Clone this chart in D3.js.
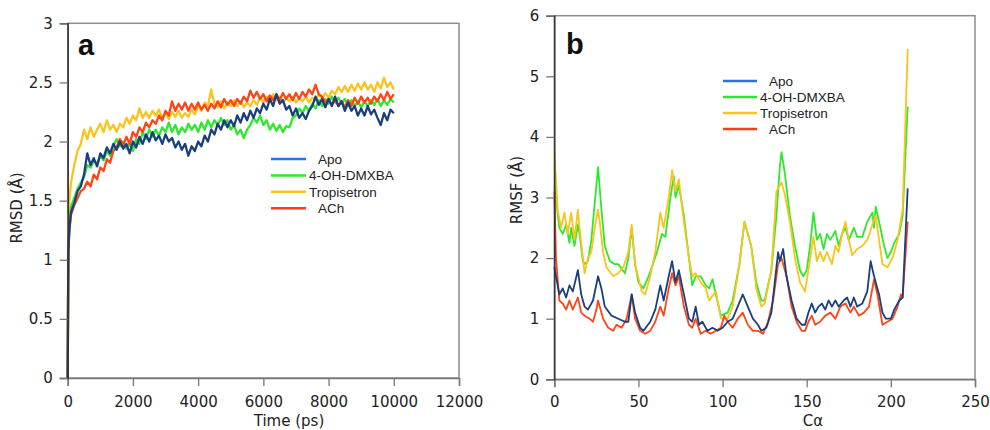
<!DOCTYPE html>
<html>
<head>
<meta charset="utf-8">
<script src="https://cdn.jsdelivr.net/npm/d3@7"></script>
<style>
  body { margin: 0; background: #fff; }
  .tick text { font-family: "DejaVu Sans", sans-serif; font-size: 15px; fill: #222; }
  .legend text { font-family: "Liberation Sans", Arial, sans-serif; font-size: 13.5px; fill: #222; }
  .axis-title { font-family: "DejaVu Sans", sans-serif; font-size: 15px; fill: #222; }
  .panel-tag { font-family: "Liberation Sans", Arial, sans-serif; font-size: 29px; font-weight: bold; fill: #111; }
</style>
</head>
<body>
<svg id="chart" width="990" height="430"></svg>
<script>
(function () {
  const seriesNames = ['Apo', '4-OH-DMXBA', 'Tropisetron', 'ACh'];

  // panel a: RMSD vs time (ps)
  const timePs = [0, 20, 50, 100, 200, 300, 400, 500, 600, 700, 800, 900, 1000,
    1100, 1200, 1300, 1400, 1500, 1600, 1700, 1800, 1900, 2000,
    2100, 2200, 2300, 2400, 2500, 2600, 2700, 2800, 2900, 3000,
    3100, 3200, 3300, 3400, 3500, 3600, 3700, 3800, 3900, 4000,
    4100, 4200, 4300, 4400, 4500, 4600, 4700, 4800, 4900, 5000,
    5100, 5200, 5300, 5400, 5500, 5600, 5700, 5800, 5900, 6000,
    6100, 6200, 6300, 6400, 6500, 6600, 6700, 6800, 6900, 7000,
    7100, 7200, 7300, 7400, 7500, 7600, 7700, 7800, 7900, 8000,
    8100, 8200, 8300, 8400, 8500, 8600, 8700, 8800, 8900, 9000,
    9100, 9200, 9300, 9400, 9500, 9600, 9700, 9800, 9900, 10000];

  const rmsdApo = [0.0, 1.05, 1.25, 1.40, 1.48, 1.58, 1.62, 1.72, 1.90, 1.80, 1.86, 1.79, 1.90,
    1.86, 1.95, 1.90, 1.98, 1.93, 2.00, 1.94, 1.98, 1.90, 2.00,
    1.95, 2.04, 1.98, 2.06, 2.00, 2.08, 2.01, 2.05, 1.98, 2.06,
    2.00, 2.03, 1.95, 2.00, 1.93, 1.98, 1.88, 1.96, 1.92, 2.00,
    1.96, 2.05, 2.00, 2.10, 2.06, 2.15, 2.10, 2.18, 2.12, 2.18,
    2.13, 2.22, 2.16, 2.24, 2.18, 2.26, 2.20, 2.28, 2.24, 2.32,
    2.27, 2.36, 2.30, 2.40, 2.32, 2.35, 2.27, 2.30, 2.22, 2.28,
    2.20, 2.24, 2.19, 2.26, 2.30, 2.38, 2.31, 2.36, 2.29, 2.36,
    2.30, 2.38, 2.30, 2.34, 2.26, 2.33, 2.26, 2.30, 2.22, 2.28,
    2.22, 2.30, 2.23, 2.27, 2.20, 2.14, 2.24, 2.18, 2.27, 2.24];

  const rmsdDmxba = [0.0, 1.10, 1.30, 1.45, 1.52, 1.60, 1.65, 1.70, 1.80, 1.78, 1.84, 1.80, 1.88,
    1.84, 1.92, 1.88, 1.96, 2.02, 1.96, 2.00, 1.94, 1.98, 1.92,
    2.02, 1.98, 2.08, 2.02, 2.10, 2.04, 2.10, 2.05, 2.12, 2.08,
    2.16, 2.08, 2.14, 2.06, 2.12, 2.08, 2.15, 2.10, 2.14, 2.08,
    2.16, 2.10, 2.18, 2.12, 2.18, 2.14, 2.20, 2.14, 2.18, 2.10,
    2.14, 2.06, 2.10, 2.03, 2.10, 2.14, 2.20, 2.16, 2.22, 2.14,
    2.18, 2.10, 2.15, 2.09, 2.14, 2.08, 2.13, 2.12, 2.20, 2.22,
    2.28, 2.24, 2.30, 2.26, 2.32, 2.28, 2.35, 2.30, 2.36, 2.32,
    2.38, 2.33, 2.37, 2.32, 2.36, 2.30, 2.35, 2.30, 2.34, 2.29,
    2.34, 2.30, 2.35, 2.31, 2.36, 2.30, 2.35, 2.31, 2.36, 2.33];

  const rmsdTropi = [0.0, 1.30, 1.50, 1.65, 1.80, 1.92, 1.98, 2.10, 2.02, 2.12, 2.04, 2.10, 2.15,
    2.08, 2.18, 2.10, 2.14, 2.08, 2.15, 2.12, 2.20, 2.15, 2.22,
    2.18, 2.28, 2.20, 2.25, 2.20, 2.26, 2.22, 2.27, 2.20, 2.24,
    2.19, 2.25, 2.21, 2.26, 2.20, 2.24, 2.21, 2.27, 2.23, 2.30,
    2.26, 2.33, 2.30, 2.44, 2.32, 2.29, 2.34, 2.28, 2.33, 2.30,
    2.35, 2.30, 2.34, 2.29, 2.33, 2.30, 2.35, 2.31, 2.37, 2.33,
    2.38, 2.34, 2.40, 2.35, 2.38, 2.33, 2.37, 2.34, 2.38, 2.33,
    2.37, 2.34, 2.38, 2.33, 2.37, 2.35, 2.40, 2.36, 2.41, 2.37,
    2.43, 2.40, 2.46, 2.42, 2.47, 2.42, 2.48, 2.43, 2.49, 2.44,
    2.50, 2.44, 2.48, 2.42, 2.50, 2.45, 2.54, 2.46, 2.50, 2.44];

  const rmsdAch = [0.0, 1.10, 1.25, 1.38, 1.46, 1.52, 1.58, 1.60, 1.66, 1.62, 1.72, 1.68, 1.78,
    1.75, 1.85, 1.82, 1.92, 1.95, 2.02, 1.97, 2.04, 1.98, 2.08,
    2.04, 2.12, 2.08, 2.16, 2.12, 2.18, 2.15, 2.22, 2.18, 2.26,
    2.22, 2.34, 2.26, 2.32, 2.27, 2.33, 2.26, 2.32, 2.27, 2.33,
    2.27, 2.31, 2.26, 2.32, 2.28, 2.34, 2.29, 2.36, 2.31, 2.35,
    2.30, 2.36, 2.32, 2.38, 2.34, 2.43, 2.37, 2.42, 2.36, 2.40,
    2.34, 2.39, 2.35, 2.40, 2.35, 2.41, 2.36, 2.40, 2.35, 2.41,
    2.36, 2.42, 2.38, 2.44, 2.40, 2.48, 2.40, 2.38, 2.33, 2.36,
    2.31, 2.35, 2.30, 2.34, 2.29, 2.35, 2.30, 2.37, 2.32, 2.38,
    2.33, 2.37, 2.32, 2.38, 2.34, 2.40, 2.35, 2.42, 2.36, 2.40];

  // panel b: RMSF per C-alpha residue
  const apoRes = [0, 1, 3, 5, 7, 9, 11, 14, 16, 18, 20, 23, 26, 28, 30, 34, 38, 42, 44, 46, 48, 51, 53, 57, 60,
    63, 65, 68, 70, 72, 74, 77, 80, 82, 84, 86, 88, 91, 94, 97, 100, 103, 106, 109, 112, 115, 118, 121, 123,
    126, 129, 131, 133, 134, 136, 138, 141, 144, 147, 149, 151, 153, 155, 157, 159, 161, 163, 165, 167, 169,
    172, 174, 176, 178, 180, 183, 186, 188, 190, 193, 195, 197, 200, 202, 205, 207, 210];
  const apoRmsf = [1.85, 1.70, 1.40, 1.50, 1.35, 1.55, 1.45, 1.80, 1.40, 1.20, 1.15, 1.30, 1.70, 1.50, 1.20, 1.05, 1.00, 0.95, 0.95, 1.40, 1.10, 0.85, 0.80, 0.95, 1.15,
    1.55, 1.30, 1.70, 1.95, 1.60, 1.80, 1.40, 1.00, 0.95, 1.20, 0.90, 0.95, 0.80, 0.85, 0.80, 0.85, 0.95, 1.00, 1.20, 1.40, 1.20, 1.00, 0.90, 0.80,
    0.85, 1.10, 1.60, 2.10, 1.95, 2.15, 1.70, 1.30, 1.00, 0.90, 0.90, 1.10, 1.25, 1.10, 1.20, 1.25, 1.15, 1.30, 1.20, 1.30, 1.20,
    1.30, 1.35, 1.20, 1.35, 1.20, 1.25, 1.45, 1.95, 1.70, 1.40, 1.10, 1.00, 1.00, 1.15, 1.30, 1.35, 3.15];

  const dmxbaRes = [0, 3, 5, 7, 9, 10, 12, 14, 15, 17, 18, 20, 22, 24, 26, 28, 30, 33, 36, 38, 42, 44, 46, 48, 50, 53,
    56, 58, 61, 64, 66, 69, 71, 72, 74, 77, 80, 82, 84, 87, 90, 92, 94, 96, 99, 103, 106, 110, 113, 117, 120, 123, 125,
    129, 132, 134, 135, 137, 140, 143, 146, 148, 150, 152, 154, 156, 158, 160, 162, 164, 167, 169, 171, 173, 175,
    178, 180, 183, 186, 189, 190, 191, 193, 196, 198, 200, 202, 205, 207, 210];
  const dmxbaRmsf = [3.20, 2.50, 2.40, 2.55, 2.25, 2.50, 2.20, 2.55, 2.40, 1.95, 1.90, 1.95, 2.30, 2.90, 3.50, 2.80, 2.20, 1.95, 1.90, 1.90, 1.75, 2.00, 2.50, 1.90, 1.60, 1.50,
    1.70, 1.85, 2.10, 2.40, 2.35, 3.00, 3.35, 3.00, 3.20, 2.70, 2.00, 1.55, 1.70, 1.70, 1.55, 1.50, 1.65, 1.40, 1.05, 1.10, 1.30, 1.90, 2.60, 2.20, 1.60, 1.30, 1.30,
    1.80, 2.70, 3.50, 3.75, 3.40, 2.70, 2.20, 1.80, 1.70, 1.80, 2.20, 2.75, 2.30, 2.40, 2.15, 2.40, 2.30, 2.45, 2.20, 2.40, 2.50, 2.30,
    2.50, 2.35, 2.35, 2.60, 2.75, 2.50, 2.85, 2.60, 2.20, 2.00, 2.10, 2.25, 2.40, 2.70, 4.50];

  const tropiRes = [0, 2, 4, 6, 8, 10, 12, 14, 15, 17, 18, 20, 22, 24, 26, 27, 29, 31, 35, 38, 41, 44, 46, 48, 52, 54,
    57, 60, 63, 65, 68, 70, 72, 74, 77, 80, 82, 84, 87, 90, 92, 96, 99, 103, 106, 110, 113, 117, 120, 123, 125,
    129, 132, 134, 135, 137, 140, 143, 146, 149, 151, 154, 156, 158, 160, 162, 165, 167, 169, 171, 173, 175, 177,
    180, 183, 186, 189, 191, 193, 195, 198, 201, 204, 207, 210];
  const tropiRmsf = [3.75, 2.80, 2.50, 2.75, 2.40, 2.75, 2.30, 2.80, 2.50, 2.00, 1.75, 2.00, 2.10, 2.50, 2.80, 2.60, 2.10, 1.85, 1.70, 1.75, 1.85, 2.10, 2.55, 1.90, 1.45, 1.40,
    1.70, 2.10, 2.75, 2.50, 3.00, 3.45, 3.10, 3.30, 2.60, 2.00, 1.70, 1.75, 1.60, 1.50, 1.30, 1.45, 1.00, 1.00, 1.20, 1.90, 2.60, 2.20, 1.50, 1.20, 1.25,
    1.80, 3.10, 3.20, 3.25, 3.05, 2.60, 2.00, 1.60, 1.45, 1.80, 2.35, 1.95, 2.10, 1.95, 2.10, 1.90, 2.20, 2.10, 2.40, 2.60, 2.30, 2.05,
    2.15, 2.20, 2.30, 2.55, 2.70, 2.30, 1.90, 1.85, 2.00, 2.30, 2.80, 5.45];

  const achRes = [0, 1, 3, 5, 7, 9, 11, 14, 16, 18, 21, 23, 25, 26, 29, 32, 35, 37, 40, 43, 46, 48, 51, 54, 57, 60,
    63, 65, 68, 70, 72, 74, 77, 80, 82, 84, 87, 90, 93, 96, 99, 101, 103, 106, 109, 112, 115, 118, 121, 124,
    127, 130, 133, 135, 138, 141, 144, 147, 149, 151, 153, 155, 158, 161, 164, 167, 170, 173, 176, 178, 181,
    184, 187, 190, 192, 195, 198, 201, 204, 206, 207, 210];
  const achRmsf = [3.10, 2.00, 1.30, 1.25, 1.15, 1.30, 1.15, 1.35, 1.10, 1.05, 1.00, 0.95, 1.15, 1.30, 1.00, 0.85, 0.80, 0.90, 0.85, 1.00, 1.40, 1.00, 0.80, 0.75, 0.80, 0.95,
    1.20, 1.05, 1.50, 1.75, 1.55, 1.70, 1.20, 0.90, 0.85, 1.00, 0.75, 0.80, 0.75, 0.80, 0.85, 1.05, 0.95, 0.85, 1.00, 1.10, 0.90, 0.80, 0.80, 0.75,
    0.95, 1.30, 1.90, 2.00, 1.70, 1.20, 0.95, 0.80, 0.80, 0.95, 1.05, 0.90, 0.95, 1.05, 1.10, 1.00, 1.20, 1.25, 1.10, 1.20, 1.05,
    1.10, 1.20, 1.65, 1.40, 0.90, 0.95, 1.00, 1.20, 1.40, 1.35, 2.60];

  const xTicksA = [0, 2000, 4000, 6000, 8000, 10000, 12000];
  const yTicksA = [0, 0.5, 1, 1.5, 2, 2.5, 3];
  const xTicksB = [0, 50, 100, 150, 200, 250];
  const yTicksB = [0, 1, 2, 3, 4, 5, 6];

  const lineColors = { 'Apo': '#1b3f7e', '4-OH-DMXBA': '#2ee82e', 'Tropisetron': '#f8c41e', 'ACh': '#ff4516' };
  const legendColors = { 'Apo': '#2f6fe6', '4-OH-DMXBA': '#2ee82e', 'Tropisetron': '#f8c41e', 'ACh': '#ff3b1c' };

  const svg = d3.select('#chart');

  function panel(opts) {
    const g = svg.append('g');
    const x = d3.scaleLinear().domain(opts.xDomain).range([opts.left, opts.right]);
    const y = d3.scaleLinear().domain(opts.yDomain).range([opts.bottom, opts.top]);

    g.append('rect')
      .attr('x', opts.left).attr('y', opts.top)
      .attr('width', opts.right - opts.left).attr('height', opts.bottom - opts.top)
      .attr('fill', 'none').attr('stroke', '#8c8c8c').attr('stroke-width', 1.5);

    const line = d3.line().x((d) => x(d[0])).y((d) => y(d[1]));
    opts.series.forEach((s) => {
      g.append('path')
        .datum(d3.zip(s.xs, s.ys))
        .attr('fill', 'none')
        .attr('stroke', lineColors[s.name])
        .attr('stroke-width', opts.strokeWidth)
        .attr('stroke-linejoin', 'round')
        .attr('d', line);
    });

    const xAxis = d3.axisBottom(x).tickValues(opts.xTicks).tickSize(8).tickPadding(opts.xPad).tickFormat(d3.format('d'));
    const yAxis = d3.axisLeft(y).tickValues(opts.yTicks).tickSize(8).tickPadding(7).tickFormat(d3.format(''));

    const gx = g.append('g').attr('transform', 'translate(0,' + opts.bottom + ')').call(xAxis);
    gx.select('.domain').attr('stroke', '#777').attr('stroke-width', 1.5);
    gx.selectAll('.tick line').attr('stroke', '#777').attr('stroke-width', 1.3);

    const gy = g.append('g').attr('transform', 'translate(' + opts.left + ',0)').call(yAxis);
    gy.select('.domain').attr('stroke', '#333').attr('stroke-width', 1.5);
    gy.selectAll('.tick line').attr('stroke', '#777').attr('stroke-width', 1.3);

    g.append('text').attr('class', 'panel-tag')
      .attr('x', opts.tag[1]).attr('y', opts.tag[2]).text(opts.tag[0]);

    g.append('text').attr('class', 'axis-title')
      .attr('text-anchor', 'middle')
      .attr('x', opts.xTitle[1]).attr('y', opts.xTitle[2]).text(opts.xTitle[0]);

    g.append('text').attr('class', 'axis-title')
      .attr('text-anchor', 'middle')
      .attr('transform', 'translate(' + opts.yTitle[1] + ',' + opts.yTitle[2] + ') rotate(-90)')
      .text(opts.yTitle[0]);

    const lg = g.append('g').attr('class', 'legend');
    seriesNames.forEach((name, i) => {
      const ly = opts.legend.y + i * opts.legend.step;
      lg.append('line')
        .attr('x1', opts.legend.x).attr('x2', opts.legend.x + opts.legend.len)
        .attr('y1', ly).attr('y2', ly)
        .attr('stroke', legendColors[name]).attr('stroke-width', 2.5);
      const indent = (name === 'Apo' || name === 'ACh') ? 12 : 3;
      lg.append('text')
        .attr('x', opts.legend.x + opts.legend.len + indent)
        .attr('y', ly + 5)
        .text(name);
    });
  }

  panel({
    left: 67.7, right: 459, top: 23.3, bottom: 378,
    xDomain: [0, 12000], yDomain: [0, 3],
    xTicks: xTicksA, yTicks: yTicksA, xPad: 10,
    strokeWidth: 2.3,
    series: [
      { name: 'Tropisetron', xs: timePs, ys: rmsdTropi },
      { name: '4-OH-DMXBA', xs: timePs, ys: rmsdDmxba },
      { name: 'ACh', xs: timePs, ys: rmsdAch },
      { name: 'Apo', xs: timePs, ys: rmsdApo }
    ],
    tag: ['a', 78, 55],
    xTitle: ['Time (ps)', 289, 426],
    yTitle: ['RMSD (Å)', 22, 208],
    legend: { x: 271, y: 159, step: 16.4, len: 35 }
  });

  panel({
    left: 554.3, right: 975, top: 15.7, bottom: 379.3,
    xDomain: [0, 250], yDomain: [0, 6],
    xTicks: xTicksB, yTicks: yTicksB, xPad: 9,
    strokeWidth: 1.8,
    series: [
      { name: '4-OH-DMXBA', xs: dmxbaRes, ys: dmxbaRmsf },
      { name: 'Tropisetron', xs: tropiRes, ys: tropiRmsf },
      { name: 'ACh', xs: achRes, ys: achRmsf },
      { name: 'Apo', xs: apoRes, ys: apoRmsf }
    ],
    tag: ['b', 566, 54],
    xTitle: ['Cα', 813, 426],
    yTitle: ['RMSF (Å)', 522, 190],
    legend: { x: 723, y: 81, step: 16, len: 34 }
  });
})();
</script>
</body>
</html>
